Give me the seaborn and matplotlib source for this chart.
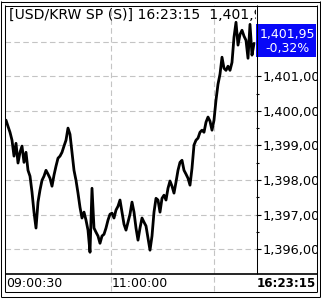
import matplotlib
matplotlib.use("Agg")
import matplotlib.pyplot as plt
import matplotlib.transforms as mtransforms
from matplotlib.patches import Rectangle
from matplotlib.lines import Line2D
import seaborn as sns
import numpy as np

# ---- data ----
prices = [
    1399.73, 1399.55, 1399.38, 1399.15, 1398.69, 1399.06, 1398.49, 1398.80, 1398.98, 1398.51,
    1398.80, 1398.28, 1398.11, 1397.65, 1397.07, 1396.61, 1397.36, 1397.71, 1397.99, 1398.11,
    1398.28, 1398.17, 1398.05, 1397.82, 1398.14, 1398.40, 1398.63, 1398.69, 1398.80, 1398.98,
    1399.15, 1399.50, 1399.32, 1398.80, 1398.28, 1397.99, 1397.62, 1397.21, 1396.90, 1397.07,
    1396.84, 1396.55, 1395.91, 1397.76, 1396.61, 1396.49, 1396.38, 1396.17, 1396.38, 1396.43,
    1396.61, 1396.84, 1397.01, 1397.04, 1396.90, 1397.13, 1397.24, 1397.42, 1397.07, 1396.72,
    1396.55, 1396.78, 1397.01, 1397.36, 1397.07, 1396.61, 1396.26, 1396.61, 1396.90, 1396.78,
    1396.67, 1396.32, 1395.97, 1396.38, 1397.07, 1397.47, 1397.42, 1397.07, 1397.47, 1397.56,
    1397.42, 1397.76, 1397.97, 1397.82, 1397.62, 1397.94, 1398.28, 1398.51, 1398.57, 1398.28,
    1398.17, 1398.05, 1397.85, 1398.34, 1399.01, 1399.15, 1399.21, 1399.38, 1399.44, 1399.38,
    1399.67, 1399.82, 1399.70, 1399.44, 1399.73, 1400.31, 1400.77, 1401.06, 1401.55, 1401.23,
    1401.17, 1401.29, 1401.17, 1401.40, 1402.13, 1402.56, 1401.90, 1402.21, 1402.33, 1402.16,
    1402.04, 1401.52, 1402.50, 1401.61, 1401.95,
]
grid_levels = [1396, 1397, 1398, 1399, 1400, 1401, 1402]
label_levels = [1396, 1397, 1398, 1399, 1400, 1401]
minor_levels = [1396.5, 1397.5, 1398.5, 1399.5, 1400.5]
time_grid_idx = [52.5, 104]
first_time = "09:00:30"
grid_time_labels = ["11:00:00", ""]
last_time = "16:23:15"
title = "[USD/KRW SP (S)] 16:23:15  1,401,95  \u25bc4,50  -0,32%"
last_price = "1,401,95"
change_pct = "-0,32%"

# ---- figure ----
sns.set_style("white")
plt.rcParams['font.family'] = ['DejaVu Sans']
W, H = 321, 299
fig = plt.figure(figsize=(W / 100, H / 100), dpi=100)

def fx(px):
    return px / W

def fy(py):
    return 1 - py / H

ax = fig.add_axes([fx(5), fy(273), fx(256) - fx(5), fy(5) - fy(273)])
ax.set_facecolor("white")
idx = np.arange(len(prices))
sns.lineplot(x=idx, y=prices, ax=ax, color="black", linewidth=2.0, zorder=3)
ax.set_xlim(-0.5, 125)
ax.set_ylim(1395.31, 1403.06)
ax.set_xlabel("")
ax.set_ylabel("")
for s in ax.spines.values():
    s.set_visible(False)

# gridlines
for lv in grid_levels:
    ax.axhline(lv, color="#c4c4c4", lw=0.8, ls=(0, (5, 3)), zorder=1)
for gx in time_grid_idx:
    ax.axvline(gx, ymin=-(291 - 273) / 268, ymax=1, color="#c4c4c4", lw=0.8,
               ls=(0, (5, 3)), zorder=1, clip_on=False)

# right price axis
ax.set_xticks([])
ax.yaxis.tick_right()
ax.set_yticks(label_levels)
ax.set_yticklabels([f"{int(v):,},{int(round((v % 1) * 100)):02d}" for v in label_levels])
ax.set_yticks(minor_levels, minor=True)
ax.tick_params(axis="y", which="major", right=True, left=False, length=3.8, width=0.8,
               pad=0.8, labelsize=9.3, colors="black", direction="out")
ax.tick_params(axis="y", which="minor", right=True, left=False, length=2.3, width=0.8,
               direction="out", colors="black")

# title (clipped by the plot area)
ax.text(0.016, 0.962, title, transform=ax.transAxes, ha="left", va="center",
        fontsize=10.1, color="black", clip_on=True, zorder=4)

# bottom time labels
btrans = mtransforms.blended_transform_factory(ax.transData, fig.transFigure)
ax.text(0, fy(283.5), first_time, transform=btrans, ha="left", va="center",
        fontsize=9.0, color="black", clip_on=False)
for gx, lab in zip(time_grid_idx, grid_time_labels):
    if lab:
        ax.text(gx + 0.3, fy(283.5), lab, transform=btrans, ha="left", va="center",
                fontsize=9.0, color="black", clip_on=False)
fig.text(fx(315.5), fy(283.5), last_time, ha="right", va="center", fontsize=8.6,
         fontweight="bold", color="black")

# blue current-price box
fig.add_artist(Rectangle((fx(256), fy(57)), fx(316) - fx(256), fy(24) - fy(57),
                         transform=fig.transFigure, facecolor="#0808f8",
                         edgecolor="none", zorder=4))
fig.text(fx(287.5), fy(34.5), last_price, ha="center", va="center", fontsize=9.0,
         color="white", zorder=5)
fig.text(fx(287.5), fy(48.5), change_pct, ha="center", va="center", fontsize=9.0,
         color="white", zorder=5)

# white margin covering overflow beyond the inner frame
fig.add_artist(Rectangle((fx(316.5), 0), 1 - fx(316.5), 1, transform=fig.transFigure,
                         facecolor="white", edgecolor="none", zorder=6))

def hline(py, x0, x1, lw=0.75):
    fig.add_artist(Line2D([fx(x0), fx(x1)], [fy(py), fy(py)], transform=fig.transFigure,
                          color="black", lw=lw, zorder=7, solid_capstyle="butt"))

def vline(px, y0, y1, lw=0.75):
    fig.add_artist(Line2D([fx(px), fx(px)], [fy(y0), fy(y1)], transform=fig.transFigure,
                          color="black", lw=lw, zorder=7, solid_capstyle="butt"))

# outer frame
hline(1.5, 1, 320); hline(296.5, 1, 320)
vline(1.5, 1, 297); vline(319.5, 1, 297)
# inner frame
hline(5.5, 5, 317); hline(291.5, 5, 317)
vline(5.5, 5, 292); vline(316.5, 5, 292)
# separators
vline(256.5, 5, 273.5)
hline(273.5, 5, 317, lw=1.2)

fig.savefig("out.png", dpi=100, facecolor="white")
